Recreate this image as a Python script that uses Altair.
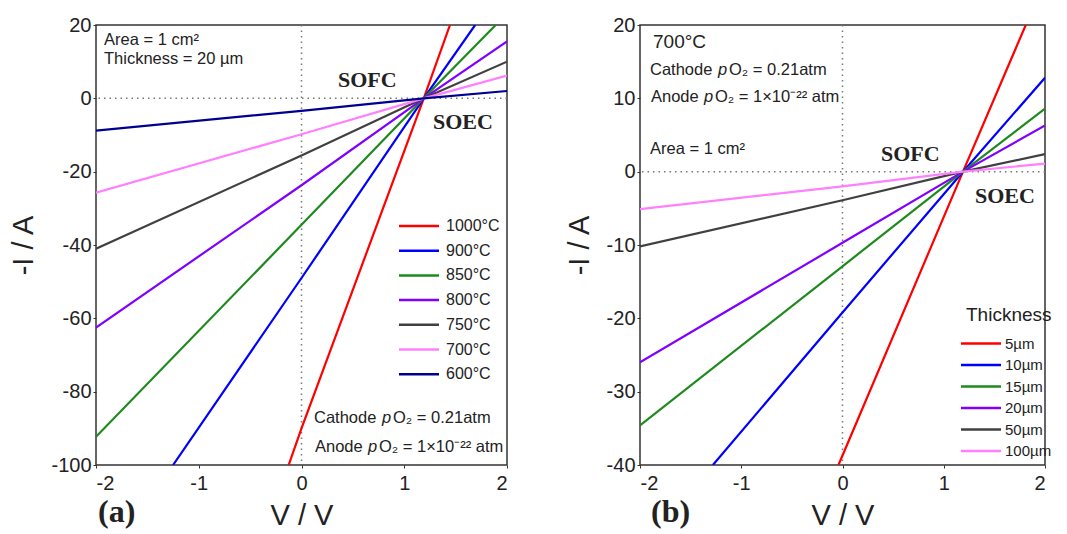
import altair as alt
import pandas as pd

# ---------------- Panel (a): temperature series ----------------
temps = ["1000°C", "900°C", "850°C", "800°C", "750°C", "700°C", "600°C"]
temp_colors = ["#ff0000", "#0000ff", "#1e8a1e", "#8000ff", "#404040", "#ff80ff", "#000090"]
v_a = [
    [-0.125, 0.0, 1.19, 1.445],
    [-1.25, 0.0, 1.19, 1.69],
    [-2.0, 0.0, 1.19, 1.89],
    [-2.0, 0.0, 1.19, 2.0],
    [-2.0, 0.0, 1.19, 2.0],
    [-2.0, 0.0, 1.19, 2.0],
    [-2.0, 0.0, 1.19, 2.0],
]
i_a = [
    [-100.0, -90.0, 0.0, 20.0],
    [-100.0, -49.0, 0.0, 20.0],
    [-92.3, -34.5, 0.0, 20.0],
    [-62.5, -23.7, 0.0, 15.5],
    [-41.0, -15.6, 0.0, 10.0],
    [-25.7, -9.8, 0.0, 6.2],
    [-8.8, -3.4, 0.0, 2.0],
]

# ---------------- Panel (b): thickness series ----------------
thick = ["5µm", "10µm", "15µm", "20µm", "50µm", "100µm"]
thick_colors = ["#ff0000", "#0000ff", "#1e8a1e", "#8000ff", "#404040", "#ff80ff"]
v_b = [
    [-0.04, 0.0, 1.19, 1.81],
    [-1.28, 0.0, 1.19, 2.0],
    [-2.0, 0.0, 1.19, 2.0],
    [-2.0, 0.0, 1.19, 2.0],
    [-2.0, 0.0, 1.19, 2.0],
    [-2.0, 0.0, 1.19, 2.0],
]
i_b = [
    [-40.0, -38.7, 0.0, 20.0],
    [-40.0, -19.2, 0.0, 12.8],
    [-34.6, -12.9, 0.0, 8.6],
    [-26.0, -9.7, 0.0, 6.3],
    [-10.2, -3.9, 0.0, 2.4],
    [-5.1, -2.0, 0.0, 1.1],
]

x_ticks = [-2, -1, 0, 1, 2]
y_ticks_a = [20, 0, -20, -40, -60, -80, -100]
y_ticks_b = [20, 10, 0, -10, -20, -30, -40]

SANS = "Liberation Sans"
SERIF = "Liberation Serif"


def long_df(names, vs, cs):
    rows = []
    for name, vv, cc in zip(names, vs, cs):
        for k, (v, c) in enumerate(zip(vv, cc)):
            rows.append({"s": name, "v": v, "i": c, "o": k})
    return pd.DataFrame(rows)


def txt(t, x, y, size=16.5, font=SANS, weight="normal", style="normal"):
    return alt.Chart(pd.DataFrame({"t": [t]})).mark_text(
        align="left", baseline="middle", fontSize=size, font=font,
        fontWeight=weight, fontStyle=style, color="#222"
    ).encode(x=alt.value(x), y=alt.value(y), text="t:N")


def po2_line(prefix, rest, x, y, p_dx, o_dx, size=16.5):
    return [
        txt(prefix, x, y, size),
        txt("p", x + p_dx, y, size, style="italic"),
        txt(rest, x + o_dx, y, size),
    ]


def panel(df, names, colors, ydom, yticks, W, H, legend, extra):
    x = alt.X("v:Q", scale=alt.Scale(domain=[-2, 2], nice=False),
              axis=alt.Axis(values=x_ticks, title="V / V", labelExpr="'' + datum.value",
                            labelPadding=5, titlePadding=8))
    y = alt.Y("i:Q", scale=alt.Scale(domain=ydom, nice=False),
              axis=alt.Axis(values=yticks, title="-I / A", labelExpr="'' + datum.value",
                            labelPadding=2, titlePadding=12))
    base0 = pd.DataFrame({"z": [0]})
    vz = alt.Chart(base0).mark_rule(color="#777", strokeDash=[1.5, 4], strokeWidth=1.5).encode(
        x=alt.datum(0))
    hz = alt.Chart(base0).mark_rule(color="#777", strokeDash=[1.5, 4], strokeWidth=1.5).encode(
        y=alt.datum(0))
    lines = alt.Chart(df).mark_line(strokeWidth=2.2, clip=True).encode(
        x=x, y=y,
        color=alt.Color("s:N", scale=alt.Scale(domain=names, range=colors), legend=legend),
        order="o:Q", detail="s:N",
    )
    return alt.layer(vz, hz, lines, *extra).properties(width=W, height=H)


legend_a = alt.Legend(
    orient="none", legendX=315, legendY=193, title=None,
    labelFont=SANS, labelFontSize=16, labelColor="#222",
    symbolType="M-4,0H4", symbolSize=100, symbolStrokeWidth=2.5,
    labelOffset=19, rowPadding=8.7, padding=0, offset=0,
)
legend_b = alt.Legend(
    orient="none", legendX=326, legendY=281, title="Thickness",
    titleFont=SANS, titleFontSize=19, titleFontWeight="normal", titleColor="#222",
    titlePadding=11, labelFont=SANS, labelFontSize=15, labelColor="#222",
    symbolType="M-2.5,0H5.5", symbolSize=100, symbolStrokeWidth=2.5,
    labelOffset=24, rowPadding=5.5, padding=0, offset=0,
)

extra_a = [
    txt("Area = 1 cm²", 8, 15),
    txt("Thickness = 20 µm", 8, 34),
    txt("SOFC", 242, 55, 22, SERIF, "bold"),
    txt("SOEC", 337, 97, 22, SERIF, "bold"),
    *po2_line("Cathode", "O₂ = 0.21atm", 218, 393, 68, 79),
    *po2_line("Anode", "O₂ = 1×10⁻²² atm", 219, 422, 53, 64),
    txt("(a)", 2, 487, 32, SERIF, "bold"),
]
extra_b = [
    txt("700°C", 13, 17, 19),
    *po2_line("Cathode", "O₂ = 0.21atm", 10, 45, 68, 79),
    *po2_line("Anode", "O₂ = 1×10⁻²² atm", 11, 72, 53, 64),
    txt("Area = 1 cm²", 10, 124),
    txt("SOFC", 241, 129, 22, SERIF, "bold"),
    txt("SOEC", 335, 171, 22, SERIF, "bold"),
    txt("(b)", 11, 487, 32, SERIF, "bold"),
]

left = panel(long_df(temps, v_a, i_a), temps, temp_colors, [-100, 20], y_ticks_a,
             411, 440, legend_a, extra_a)
right = panel(long_df(thick, v_b, i_b), thick, thick_colors, [-40, 20], y_ticks_b,
              405, 440, legend_b, extra_b)

chart = alt.hconcat(left, right, spacing=55).resolve_scale(color="independent").properties(
    padding={"left": 9, "top": 14, "right": 5, "bottom": 0},
    background="white",
).configure_view(stroke="#333", strokeWidth=1.5).configure_axis(
    labelFont=SANS, labelFontSize=20, labelColor="#222",
    titleFont=SANS, titleFontSize=29, titleFontWeight="normal", titleColor="#222",
    domain=False, grid=False, tickColor="#333", tickSize=3,
)

chart.save("out.html", embed_options={"renderer": "svg", "actions": False})
